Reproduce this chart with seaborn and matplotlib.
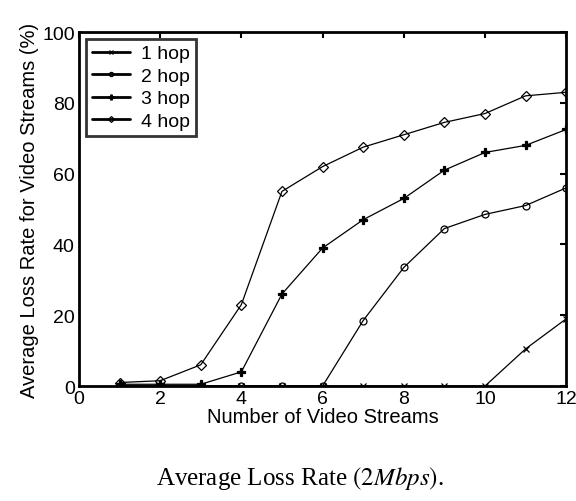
import matplotlib.pyplot as plt
import numpy as np
import pandas as pd
import seaborn as sns

sns.set_style('white')
plt.rcParams['font.family'] = ['Liberation Sans', 'DejaVu Sans']
plt.rcParams['text.color'] = 'black'
plt.rcParams['axes.labelcolor'] = 'black'
plt.rcParams['xtick.color'] = 'black'
plt.rcParams['ytick.color'] = 'black'
plt.rcParams['mathtext.fontset'] = 'stix'

streams = list(range(1, 13))
hop1 = [0, 0, 0, 0, 0, 0, 0, 0, 0, 0, 10.5, 19]
hop2 = [0, 0, 0, 0, 0, 0, 18.5, 33.5, 44.5, 48.5, 51, 56]
hop3 = [0.5, 0.5, 0.5, 4, 26, 39, 47, 53, 61, 66, 68, 72.5]
hop4 = [1, 1.5, 6, 23, 55, 62, 67.5, 71, 74.5, 77, 82, 83]
labels = ['1 hop', '2 hop', '3 hop', '4 hop']

data = pd.DataFrame({
    'streams': streams * 4,
    'loss': hop1 + hop2 + hop3 + hop4,
    'hop': [l for l in labels for _ in streams],
})

fig = plt.figure(figsize=(5.76, 5.02), dpi=100)
ax = fig.add_axes([0.137, 0.229, 0.846, 0.705])

markers = {'1 hop': 'x', '2 hop': 'o', '3 hop': 'P', '4 hop': 'D'}
mstyle = {
    '1 hop': dict(ms=4, mfc='none'),
    '2 hop': dict(ms=5, mfc='none'),
    '3 hop': dict(ms=6, mfc='black'),
    '4 hop': dict(ms=5, mfc='none'),
}
for lab in labels:
    sub = data[data['hop'] == lab]
    sns.lineplot(data=sub, x='streams', y='loss', ax=ax, color='black',
                 lw=0.9, marker=markers[lab], mec='black', mew=0.9,
                 label=lab, **mstyle[lab])

ax.set_xlim(0, 12)
ax.set_ylim(0, 100)
ax.set_xticks(range(0, 13, 2))
ax.set_yticks(range(0, 101, 20))
ax.tick_params(direction='in', length=4, width=1.5, labelsize=14,
               top=True, right=True, pad=3)
for s in ax.spines.values():
    s.set_linewidth(2)
    s.set_color('black')
ax.set_xlabel('Number of Video Streams', fontsize=14.5, labelpad=0)
ax.set_ylabel('Average Loss Rate for Video Streams (%)', fontsize=14.5,
              labelpad=2)

leg = ax.legend(loc='upper left', fontsize=14, frameon=True, fancybox=False,
                handlelength=2.0, borderaxespad=0.35, labelspacing=0.25,
                handletextpad=0.55, borderpad=0.3, edgecolor='black',
                markerscale=0.6)
leg.get_frame().set_linewidth(2)
for line in leg.get_lines():
    line.set_linewidth(2)

fig.text(0.52, 0.046, r'Average Loss Rate $(2Mbps)$.', ha='center',
         va='center', fontsize=18, family='Liberation Serif')

fig.savefig('out.png', dpi=100)
